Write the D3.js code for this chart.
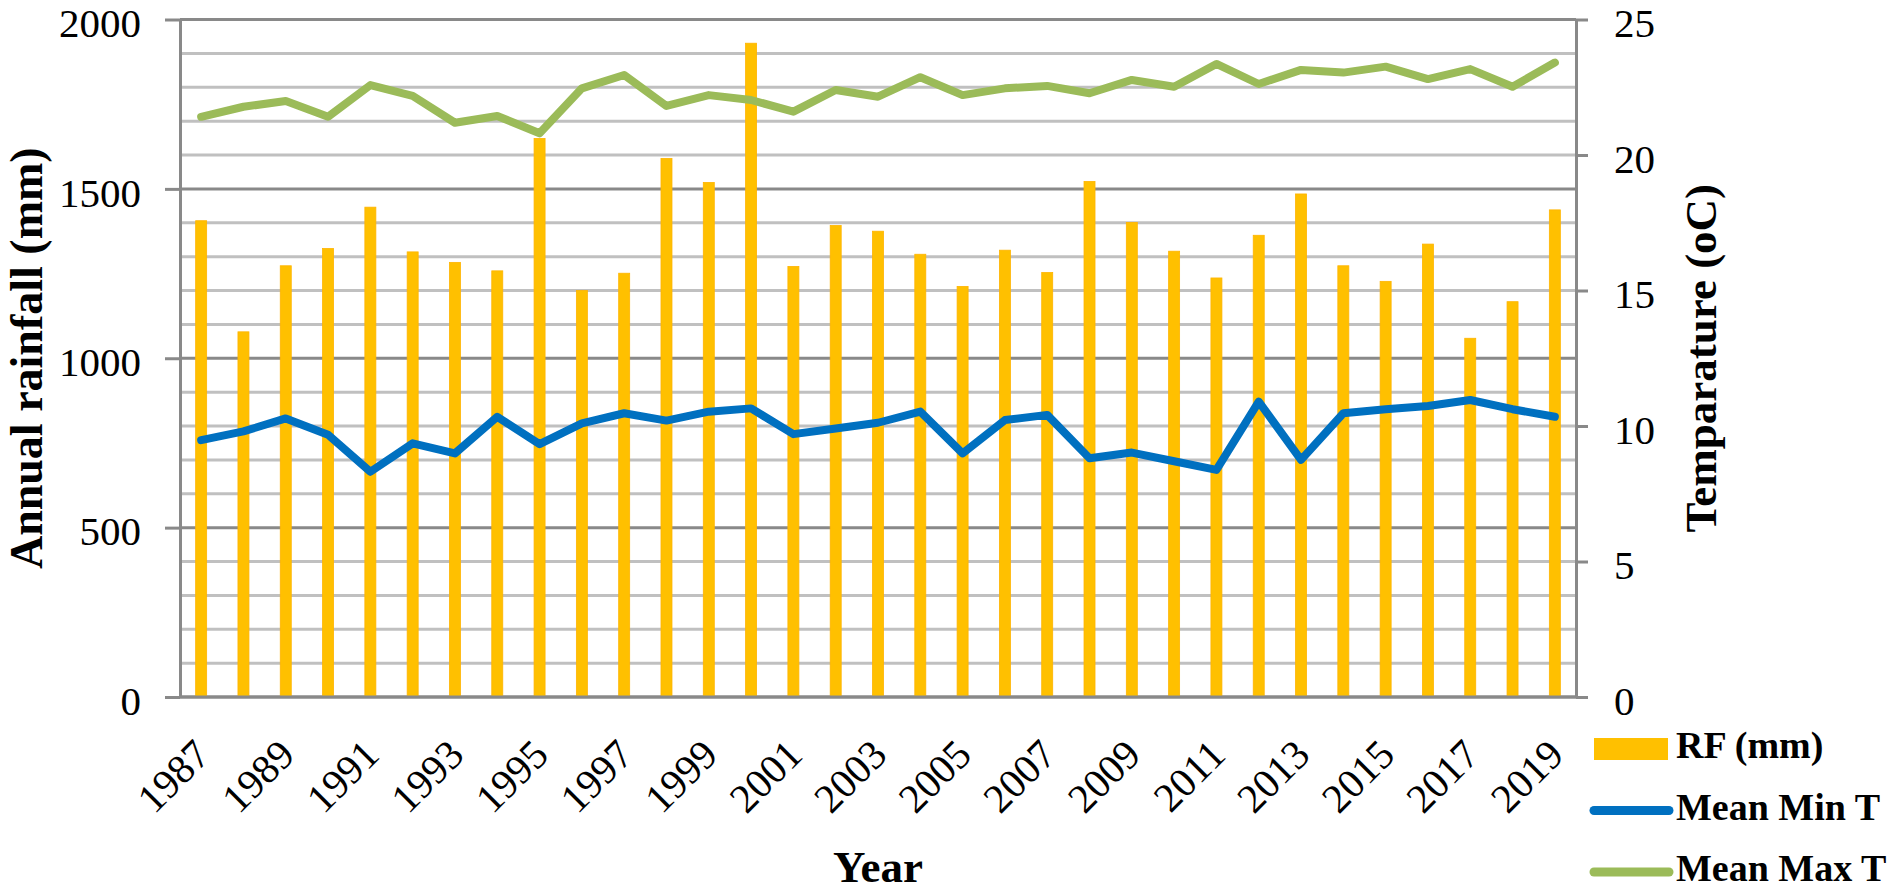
<!DOCTYPE html>
<html>
<head>
<meta charset="utf-8">
<script src="https://cdn.jsdelivr.net/npm/d3@7"></script>
<style>
  body { margin: 0; background: #fff; }
  svg text { font-family: "Liberation Serif", "Times New Roman", serif; fill: #000; }
</style>
</head>
<body>
<svg id="chart" width="1890" height="895"></svg>
<script>

var years = d3.range(1987, 2020).map(String);

// annual rainfall, mm
var rainfall = [1406, 1078, 1273, 1324, 1446, 1314, 1283, 1258, 1649, 1200,
	1251, 1590, 1519, 1930, 1271, 1392, 1375, 1307, 1212, 1319,
	1253, 1522, 1401, 1316, 1237, 1363, 1485, 1273, 1227, 1337,
	1059, 1167, 1438];

// mean minimum temperature, oC
var minT = [9.48, 9.8, 10.28, 9.68, 8.31, 9.36, 8.99, 10.34, 9.33, 10.1,
	10.47, 10.2, 10.53, 10.65, 9.7, 9.91, 10.12, 10.53, 8.99, 10.22,
	10.41, 8.81, 9.02, 8.7, 8.38, 10.9, 8.75, 10.47, 10.62, 10.74,
	10.96, 10.62, 10.34];

// mean maximum temperature, oC
var maxT = [21.41, 21.78, 21.99, 21.41, 22.58, 22.18, 21.19, 21.44, 20.8, 22.46,
	22.95, 21.81, 22.21, 22.03, 21.6, 22.4, 22.15, 22.87, 22.21, 22.46,
	22.55, 22.28, 22.77, 22.52, 23.36, 22.62, 23.14, 23.04, 23.26, 22.8,
	23.17, 22.52, 23.41];

var rainTicks = [0, 500, 1000, 1500, 2000];
var tempTicks = [0, 5, 10, 15, 20, 25];
var gridValues = d3.range(0, 2001, 100);

var legendItems = [
	{label: "RF (mm)", type: "bar", color: "#FFC000"},
	{label: "Mean Min T", type: "line", color: "#0070C0"},
	{label: "Mean Max T", type: "line", color: "#9BBB59"}];

var svg = d3.select("#chart");
var plotLeft = 180, plotRight = 1576, plotTop = 19.5, plotBottom = 697;

var x = d3.scaleBand().domain(years).range([plotLeft, plotRight]);
var yRain = d3.scaleLinear().domain([0, 2000]).range([plotBottom, plotTop]);
var yTemp = d3.scaleLinear().domain([0, 25]).range([plotBottom, plotTop]);

// gridlines
svg.append("g").selectAll("line")
	.data(gridValues)
	.enter().append("line")
	.attr("x1", plotLeft).attr("x2", plotRight)
	.attr("y1", function(d) { return yRain(d); })
	.attr("y2", function(d) { return yRain(d); })
	.attr("stroke", function(d) { return d % 500 == 0 ? "#898989" : "#c0c0c0"; })
	.attr("stroke-width", 3);

// rainfall bars
var barW = 11;
svg.append("g").selectAll("rect")
	.data(rainfall)
	.enter().append("rect")
	.attr("x", function(d, i) { return x(years[i]) + x.bandwidth() / 2 - barW / 2; })
	.attr("y", function(d) { return yRain(d); })
	.attr("width", barW)
	.attr("height", function(d) { return plotBottom - yRain(d); })
	.attr("fill", "#FFC000")
	.attr("stroke", "#FFB400")
	.attr("stroke-width", 0.8);

// axes
var styleAxis = function(g) {
	g.selectAll("path.domain").attr("stroke", "#898989").attr("stroke-width", 3);
	g.selectAll(".tick line").attr("stroke", "#898989").attr("stroke-width", 3);
	g.selectAll("text").style("font-family", "Liberation Serif").style("font-size", "41px").attr("fill", "#000");
};

var leftAxis = svg.append("g")
	.attr("transform", "translate(" + plotLeft + ",0)")
	.call(d3.axisLeft(yRain).tickValues(rainTicks).tickFormat(d3.format("d"))
		.tickSize(15).tickSizeOuter(0).tickPadding(24));
styleAxis(leftAxis);
leftAxis.selectAll("text").attr("dy", "0.3em").attr("y", 5);

var rightAxis = svg.append("g")
	.attr("transform", "translate(" + plotRight + ",0)")
	.call(d3.axisRight(yTemp).tickValues(tempTicks).tickFormat(d3.format("d"))
		.tickSize(12).tickSizeOuter(0).tickPadding(26));
styleAxis(rightAxis);
rightAxis.selectAll("text").attr("dy", "0.3em").attr("y", 5);

var bottomAxis = svg.append("g")
	.attr("transform", "translate(0," + plotBottom + ")")
	.call(d3.axisBottom(x).tickSize(0).tickSizeOuter(0)
		.tickFormat(function(d, i) { return i % 2 == 0 ? d : ""; }));
styleAxis(bottomAxis);
bottomAxis.select("path.domain").attr("d", "M" + plotLeft + ",0H" + plotRight);
bottomAxis.selectAll("text")
	.attr("y", 0).attr("dy", 0).attr("x", 0)
	.attr("text-anchor", "end")
	.attr("transform", "translate(11,60) rotate(-45)");

// temperature lines
var lineFor = function(vals) {
	return d3.line()
		.x(function(d, i) { return x(years[i]) + x.bandwidth() / 2; })
		.y(function(d) { return yTemp(d); })(vals);
};

svg.append("path").attr("d", lineFor(maxT))
	.attr("fill", "none").attr("stroke", "#9BBB59")
	.attr("stroke-width", 8).attr("stroke-linejoin", "round").attr("stroke-linecap", "round");

svg.append("path").attr("d", lineFor(minT))
	.attr("fill", "none").attr("stroke", "#0070C0")
	.attr("stroke-width", 8).attr("stroke-linejoin", "round").attr("stroke-linecap", "round");

// axis titles
var midY = (plotTop + plotBottom) / 2;
svg.append("text")
	.attr("transform", "translate(42," + midY + ") rotate(-90)")
	.attr("text-anchor", "middle")
	.style("font-size", "46px").style("font-weight", "bold")
	.text("Annual rainfall (mm)");

svg.append("text")
	.attr("transform", "translate(1716," + midY + ") rotate(-90)")
	.attr("text-anchor", "middle")
	.style("font-size", "45px").style("font-weight", "bold")
	.text("Temparature (oC)");

svg.append("text")
	.attr("x", (plotLeft + plotRight) / 2).attr("y", 882)
	.attr("text-anchor", "middle")
	.style("font-size", "45px").style("font-weight", "bold")
	.text("Year");

// legend
var legend = svg.append("g").selectAll("g")
	.data(legendItems)
	.enter().append("g")
	.attr("transform", function(d, i) { return "translate(1594," + (749 + i * 61.5) + ")"; });

legend.each(function(d) {
	var g = d3.select(this);
	if (d.type == "bar") {
		g.append("rect").attr("x", 0).attr("y", -11).attr("width", 74).attr("height", 22).attr("fill", d.color);
	} else {
		g.append("line").attr("x1", 0).attr("x2", 75).attr("y1", 0).attr("y2", 0)
			.attr("stroke", d.color).attr("stroke-width", 9).attr("stroke-linecap", "round");
	}
	g.append("text").attr("x", 82).attr("y", 9)
		.style("font-size", "38px").style("font-weight", "bold")
		.text(d.label);
});

</script>
</body>
</html>
